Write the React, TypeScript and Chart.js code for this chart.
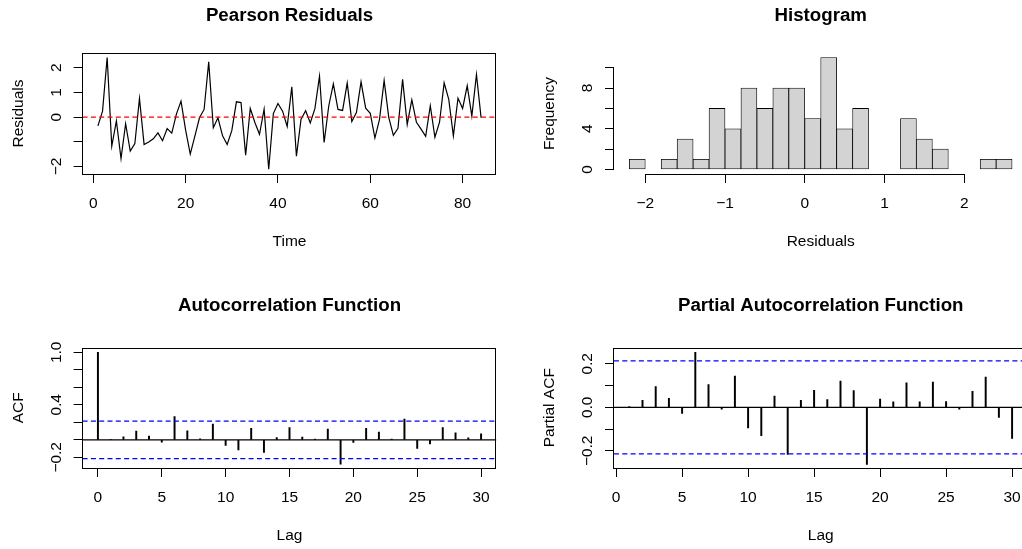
import React, { useEffect, useRef } from 'react';
import { Chart, registerables } from 'chart.js';

Chart.register(...registerables);

// ---------- data ----------
const RESIDUALS = [
  -0.36, 0.24, 2.42, -1.18, -0.16, -1.68, -0.27, -1.38, -1.07, 0.76,
  -1.11, -1.01, -0.88, -0.64, -0.96, -0.47, -0.65, 0.12, 0.65, -0.53,
  -1.5, -0.77, -0.03, 0.31, 2.24, -0.43, -0.03, -0.76, -1.11, -0.55,
  0.62, 0.59, -1.55, 0.35, -0.22, -0.7, 0.32, -2.12, 0.14, 0.55,
  0.24, -0.38, 1.23, -1.59, -0.09, 0.26, -0.24, 0.34, 1.66, -1.03,
  0.45, 1.35, 0.31, 0.27, 1.38, -0.18, 0.18, 1.43, 0.36, 0.15,
  -0.85, -0.09, 1.49, -0.01, -0.74, -0.46, 1.53, -0.3, 0.7, -0.21,
  -0.49, -0.78, 0.46, -0.82, -0.21, 1.39, 0.72, -0.76, 0.77, 0.35,
  1.27, 0.04, 1.73, -0.02,
];
const TIME = RESIDUALS.map((_, i) => i + 1);
const TIME_TICKS = [0, 20, 40, 60, 80];
const TIME_TICK_LABELS = ['0', '20', '40', '60', '80'];
const RES_TICKS = [-2, -1, 0, 1, 2];
const RES_TICK_LABELS = ['−2', '', '0', '1', '2'];
const RES_X_RANGE = [-2.32, 87.32];
const RES_Y_RANGE = [-2.31, 2.6];

const HIST_BREAKS = [-2.2, -2.0, -1.8, -1.6, -1.4, -1.2, -1.0, -0.8, -0.6, -0.4, -0.2, 0, 0.2, 0.4, 0.6, 0.8, 1.0, 1.2, 1.4, 1.6, 1.8, 2.0, 2.2, 2.4, 2.6];
const HIST_COUNTS = [1, 0, 1, 3, 1, 6, 4, 8, 6, 8, 8, 5, 11, 4, 6, 0, 0, 5, 3, 2, 0, 0, 1, 1];
const HIST_X_TICKS = [-2, -1, 0, 1, 2];
const HIST_X_LABELS = ['−2', '−1', '0', '1', '2'];
const HIST_Y_TICKS = [0, 2, 4, 6, 8, 10];
const HIST_Y_LABELS = ['0', '', '4', '', '8', ''];
const HIST_X_RANGE = [-2.392, 2.792];
const HIST_Y_RANGE = [-0.44, 11.44];

const ACF_LAGS = [0, 1, 2, 3, 4, 5, 6, 7, 8, 9, 10, 11, 12, 13, 14, 15, 16, 17, 18, 19, 20, 21, 22, 23, 24, 25, 26, 27, 28, 29, 30];
const ACF_VALUES = [
  1.0, 0.004, 0.034, 0.099, 0.042, -0.027, 0.267, 0.103, 0.011, 0.179,
  -0.065, -0.114, 0.13, -0.145, 0.027, 0.141, 0.03, 0.008, 0.122, -0.278,
  -0.03, 0.13, 0.088, 0.008, 0.236, -0.099, -0.046, 0.141, 0.08, 0.023, 0.069,
];
const PACF_LAGS = [1, 2, 3, 4, 5, 6, 7, 8, 9, 10, 11, 12, 13, 14, 15, 16, 17, 18, 19, 20, 21, 22, 23, 24, 25, 26, 27, 28, 29, 30];
const PACF_VALUES = [
  0.003, 0.032, 0.095, 0.041, -0.028, 0.253, 0.104, -0.009, 0.144, -0.095,
  -0.13, 0.052, -0.216, 0.032, 0.078, 0.035, 0.121, 0.077, -0.262, 0.038,
  0.025, 0.112, 0.025, 0.116, 0.026, -0.009, 0.074, 0.139, -0.046, -0.143,
];
const CONF_LIMIT = 0.2139;
const LAG_TICKS = [0, 5, 10, 15, 20, 25, 30];
const LAG_TICK_LABELS = ['0', '5', '10', '15', '20', '25', '30'];
const ACF_Y_TICKS = [-0.2, 0, 0.2, 0.4, 0.6, 0.8, 1.0];
const ACF_Y_LABELS = ['−0.2', '', '', '0.4', '', '', '1.0'];
const PACF_Y_TICKS = [-0.2, -0.1, 0, 0.1, 0.2];
const PACF_Y_LABELS = ['−0.2', '', '0.0', '', '0.2'];
const ACF_X_RANGE = [-1.2, 31.2];
const ACF_Y_RANGE = [-0.322, 1.055];
const PACF_X_RANGE = [-0.16, 31.16];
const PACF_Y_RANGE = [-0.279, 0.275];

// ---------- layout / style ----------
const CANVAS_W = 1100;
const CANVAS_H = 549;
const FONT_FAMILY = "'Liberation Sans', Arial, Helvetica, sans-serif";
const BASE_SIZE = 15.5;
const TITLE_SIZE = 18.7;
const LINE_H = 1.2;
const TICK_LEN = 9;
const X_LABEL_OFFSET = 29.5;
const X_TITLE_OFFSET = 67.5;
const Y_LABEL_OFFSET = 26.3;

const LEFT_COL = { left: 82.6, right: 496.4, yTitleX: 18.8 };
const RIGHT_COL = { left: 614.0, right: 1027.4, yTitleX: 549.6 };
const TOP_ROW = { top: 53, bottom: 174, titleY: 15.5 };
const BOTTOM_ROW = { top: 347.5, bottom: 468, titleY: 306 };

Chart.defaults.font.family = FONT_FAMILY;
Chart.defaults.font.size = BASE_SIZE;
Chart.defaults.color = '#000';

function measureWidest(labels: string[]): number {
  const ctx = document.createElement('canvas').getContext('2d')!;
  ctx.font = `${BASE_SIZE}px ${FONT_FAMILY}`;
  return Math.max(...labels.map((l) => ctx.measureText(l).width));
}

const rFramePlugin = {
  id: 'rFrame',
  afterDatasetsDraw(chart: any, _args: any, opts: any) {
    const { ctx, chartArea: a, scales } = chart;
    ctx.save();
    ctx.strokeStyle = '#000';
    ctx.lineWidth = 1;
    if (opts.box) {
      const l = Math.round(a.left) - 0.5;
      const t = Math.round(a.top) + 0.5;
      const r = Math.round(a.right) - 0.5;
      const b = Math.round(a.bottom) + 0.5;
      ctx.strokeRect(l, t, r - l, b - t);
    }
    if (opts.axisLines) {
      const xs = scales.x;
      const ys = scales.y;
      const xt = xs.ticks;
      const yt = ys.ticks;
      const yb = Math.round(a.bottom) + 0.5;
      const xl = Math.round(a.left) - 0.5;
      ctx.beginPath();
      ctx.moveTo(xs.getPixelForValue(xt[0].value), yb);
      ctx.lineTo(xs.getPixelForValue(xt[xt.length - 1].value), yb);
      ctx.moveTo(xl, ys.getPixelForValue(yt[0].value));
      ctx.lineTo(xl, ys.getPixelForValue(yt[yt.length - 1].value));
      ctx.stroke();
    }
    ctx.restore();
  },
};

interface PanelSpec {
  type: 'line' | 'bar';
  col: { left: number; right: number; yTitleX: number };
  row: { top: number; bottom: number; titleY: number };
  title: string;
  xTitle: string;
  yTitle: string;
  xRange: number[];
  yRange: number[];
  xTicks: number[];
  xLabels: string[];
  yTicks: number[];
  yLabels: string[];
  datasets: any[];
  box: boolean;
  axisLines: boolean;
}

function makeConfig(p: PanelSpec): any {
  const lh = BASE_SIZE * LINE_H;
  const tlh = TITLE_SIZE * LINE_H;
  const yScaleLeft = p.col.yTitleX - lh / 2;
  const yWidth = p.col.left - yScaleLeft;
  const xHeight = X_TITLE_OFFSET + lh / 2;
  const padTop = p.row.titleY - tlh / 2;
  const titleGap = p.row.top - padTop - tlh;
  const widest = measureWidest(p.yLabels);
  const zeroPad = (s: any) => {
    s.paddingLeft = 0;
    s.paddingRight = 0;
    s.paddingTop = 0;
    s.paddingBottom = 0;
  };
  const grid = {
    display: true,
    drawOnChartArea: false,
    drawTicks: true,
    tickLength: TICK_LEN,
    tickColor: '#000',
    tickWidth: 1,
    color: '#000',
    lineWidth: 1,
    offset: false,
  };
  return {
    type: p.type,
    data: { datasets: p.datasets },
    plugins: [rFramePlugin],
    options: {
      responsive: false,
      animation: false,
      events: [],
      devicePixelRatio: 1,
      layout: {
        autoPadding: false,
        padding: {
          left: yScaleLeft,
          right: CANVAS_W - p.col.right,
          top: padTop,
          bottom: CANVAS_H - p.row.bottom - xHeight,
        },
      },
      plugins: {
        legend: { display: false },
        tooltip: { enabled: false },
        title: {
          display: true,
          text: p.title,
          fullSize: false,
          color: '#000',
          font: { size: TITLE_SIZE, weight: 'bold', family: FONT_FAMILY, lineHeight: LINE_H },
          padding: { top: 0, bottom: titleGap },
        },
        rFrame: { box: p.box, axisLines: p.axisLines },
      },
      scales: {
        x: {
          type: 'linear',
          position: 'bottom',
          min: p.xRange[0],
          max: p.xRange[1],
          bounds: 'data',
          offset: false,
          afterBuildTicks: (s: any) => {
            s.ticks = p.xTicks.map((v) => ({ value: v }));
          },
          afterFit: (s: any) => {
            s.height = xHeight;
            zeroPad(s);
          },
          ticks: {
            autoSkip: false,
            maxRotation: 0,
            minRotation: 0,
            padding: X_LABEL_OFFSET - TICK_LEN - lh / 2,
            color: '#000',
            font: { size: BASE_SIZE, family: FONT_FAMILY, lineHeight: LINE_H },
            callback: (_v: any, i: number) => p.xLabels[i],
          },
          grid,
          border: { display: false },
          title: {
            display: true,
            text: p.xTitle,
            color: '#000',
            font: { size: BASE_SIZE, family: FONT_FAMILY, lineHeight: LINE_H },
            padding: { top: 0, bottom: 0 },
          },
        },
        y: {
          type: 'linear',
          position: 'left',
          min: p.yRange[0],
          max: p.yRange[1],
          bounds: 'data',
          afterBuildTicks: (s: any) => {
            s.ticks = p.yTicks.map((v) => ({ value: v }));
          },
          afterFit: (s: any) => {
            s.width = yWidth;
            zeroPad(s);
          },
          ticks: {
            autoSkip: false,
            minRotation: 90,
            maxRotation: 90,
            crossAlign: 'center',
            padding: Y_LABEL_OFFSET - TICK_LEN - widest / 2,
            color: '#000',
            font: { size: BASE_SIZE, family: FONT_FAMILY, lineHeight: LINE_H },
            callback: (_v: any, i: number) => p.yLabels[i],
          },
          grid,
          border: { display: false },
          title: {
            display: true,
            text: p.yTitle,
            color: '#000',
            font: { size: BASE_SIZE, family: FONT_FAMILY, lineHeight: LINE_H },
            padding: { top: 0, bottom: 0 },
          },
        },
      },
    },
  };
}

const DASH = [5, 3.3];

function hLine(xRange: number[], y: number, color: string, dashed: boolean, order: number) {
  return {
    type: 'line',
    data: [
      { x: xRange[0], y },
      { x: xRange[1], y },
    ],
    borderColor: color,
    borderWidth: 1.2,
    borderDash: dashed ? DASH : [],
    pointRadius: 0,
    fill: false,
    order,
  };
}

function residualConfig() {
  return makeConfig({
    type: 'line',
    col: LEFT_COL,
    row: TOP_ROW,
    title: 'Pearson Residuals',
    xTitle: 'Time',
    yTitle: 'Residuals',
    xRange: RES_X_RANGE,
    yRange: RES_Y_RANGE,
    xTicks: TIME_TICKS,
    xLabels: TIME_TICK_LABELS,
    yTicks: RES_TICKS,
    yLabels: RES_TICK_LABELS,
    box: true,
    axisLines: false,
    datasets: [
      hLine(RES_X_RANGE, 0, '#ff0000', true, 0),
      {
        type: 'line',
        data: TIME.map((t, i) => ({ x: t, y: RESIDUALS[i] })),
        borderColor: '#000',
        borderWidth: 1.2,
        pointRadius: 0,
        tension: 0,
        fill: false,
        order: 1,
      },
    ],
  });
}

function histConfig() {
  const centers = HIST_COUNTS.map((_, i) => (HIST_BREAKS[i] + HIST_BREAKS[i + 1]) / 2);
  return makeConfig({
    type: 'bar',
    col: RIGHT_COL,
    row: TOP_ROW,
    title: 'Histogram',
    xTitle: 'Residuals',
    yTitle: 'Frequency',
    xRange: HIST_X_RANGE,
    yRange: HIST_Y_RANGE,
    xTicks: HIST_X_TICKS,
    xLabels: HIST_X_LABELS,
    yTicks: HIST_Y_TICKS,
    yLabels: HIST_Y_LABELS,
    box: false,
    axisLines: true,
    datasets: [
      {
        type: 'bar',
        data: centers.map((c, i) => ({ x: c, y: HIST_COUNTS[i] })),
        backgroundColor: '#d3d3d3',
        borderColor: '#000',
        borderWidth: 0.8,
        borderSkipped: false,
        barPercentage: 1,
        categoryPercentage: 1,
      },
    ],
  });
}

function stemDataset(lags: number[], values: number[]) {
  return {
    type: 'bar',
    data: lags.map((l, i) => ({ x: l, y: values[i] })),
    backgroundColor: '#000',
    borderWidth: 0,
    barThickness: 1.3,
    order: 3,
  };
}

function acfConfig() {
  return makeConfig({
    type: 'bar',
    col: LEFT_COL,
    row: BOTTOM_ROW,
    title: 'Autocorrelation Function',
    xTitle: 'Lag',
    yTitle: 'ACF',
    xRange: ACF_X_RANGE,
    yRange: ACF_Y_RANGE,
    xTicks: LAG_TICKS,
    xLabels: LAG_TICK_LABELS,
    yTicks: ACF_Y_TICKS,
    yLabels: ACF_Y_LABELS,
    box: true,
    axisLines: false,
    datasets: [
      hLine(ACF_X_RANGE, CONF_LIMIT, '#0000ff', true, 0),
      hLine(ACF_X_RANGE, -CONF_LIMIT, '#0000ff', true, 0),
      hLine(ACF_X_RANGE, 0, '#000', false, 1),
      stemDataset(ACF_LAGS, ACF_VALUES),
    ],
  });
}

function pacfConfig() {
  return makeConfig({
    type: 'bar',
    col: RIGHT_COL,
    row: BOTTOM_ROW,
    title: 'Partial Autocorrelation Function',
    xTitle: 'Lag',
    yTitle: 'Partial ACF',
    xRange: PACF_X_RANGE,
    yRange: PACF_Y_RANGE,
    xTicks: LAG_TICKS,
    xLabels: LAG_TICK_LABELS,
    yTicks: PACF_Y_TICKS,
    yLabels: PACF_Y_LABELS,
    box: true,
    axisLines: false,
    datasets: [
      hLine(PACF_X_RANGE, CONF_LIMIT, '#0000ff', true, 0),
      hLine(PACF_X_RANGE, -CONF_LIMIT, '#0000ff', true, 0),
      hLine(PACF_X_RANGE, 0, '#000', false, 1),
      stemDataset(PACF_LAGS, PACF_VALUES),
    ],
  });
}

export default function App() {
  const r1 = useRef<HTMLCanvasElement>(null);
  const r2 = useRef<HTMLCanvasElement>(null);
  const r3 = useRef<HTMLCanvasElement>(null);
  const r4 = useRef<HTMLCanvasElement>(null);

  useEffect(() => {
    const refs = [r1, r2, r3, r4];
    const configs = [residualConfig(), histConfig(), acfConfig(), pacfConfig()];
    const charts = refs.map((r, i) => new Chart(r.current as HTMLCanvasElement, configs[i]));
    return () => charts.forEach((c) => c.destroy());
  }, []);

  const style: React.CSSProperties = { position: 'absolute', left: 0, top: 0 };
  return (
    <div
      style={{
        position: 'absolute',
        left: 0,
        top: 0,
        width: 1022,
        height: 549,
        overflow: 'hidden',
        background: '#fff',
      }}
    >
      <canvas ref={r1} width={CANVAS_W} height={CANVAS_H} style={style} />
      <canvas ref={r2} width={CANVAS_W} height={CANVAS_H} style={style} />
      <canvas ref={r3} width={CANVAS_W} height={CANVAS_H} style={style} />
      <canvas ref={r4} width={CANVAS_W} height={CANVAS_H} style={style} />
    </div>
  );
}
